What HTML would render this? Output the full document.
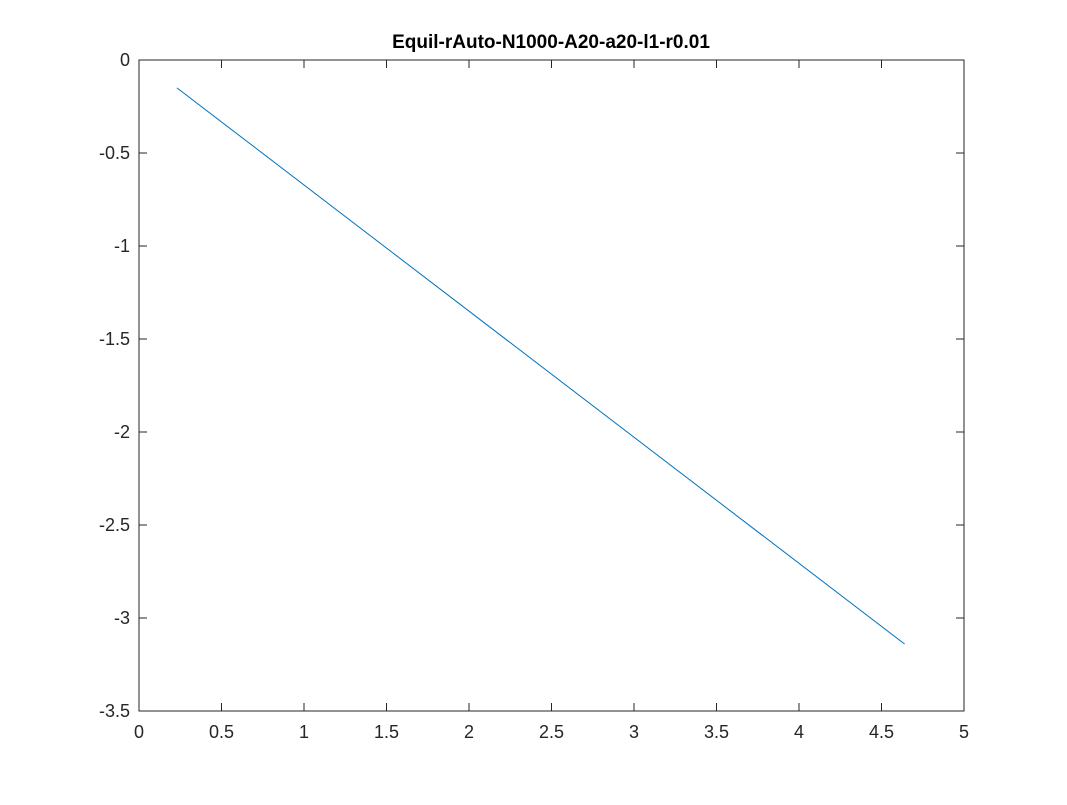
<!DOCTYPE html>
<html><head><meta charset="utf-8"><style>
body{margin:0;background:#fff;width:1067px;height:800px;overflow:hidden;font-family:"Liberation Sans",sans-serif}
</style></head><body>
<svg width="1067" height="800">
<text x="551" y="48" text-anchor="middle" font-size="19" font-weight="bold" fill="#000">Equil-rAuto-N1000-A20-a20-l1-r0.01</text>
<g id="ax"></g>
<g id="plot"></g>
</svg>
<script>
const xTicks=[0,0.5,1,1.5,2,2.5,3,3.5,4,4.5,5];
const xLabels=["0","0.5","1","1.5","2","2.5","3","3.5","4","4.5","5"];
const yTicks=[0,-0.5,-1,-1.5,-2,-2.5,-3,-3.5];
const yLabels=["0","-0.5","-1","-1.5","-2","-2.5","-3","-3.5"];
const seriesX=[0.23,4.64];
const seriesY=[-0.15,-3.14];
const L=139,R=964,T=60,B=711;
const sx=v=>L+(v-0)/(5-0)*(R-L);
const sy=v=>T+(0-v)/(0+3.5)*(B-T);
const NS="http://www.w3.org/2000/svg";
const ax=document.getElementById('ax'),plot=document.getElementById('plot');
function mk(tag,a,p){const e=document.createElementNS(NS,tag);for(const k in a)e.setAttribute(k,a[k]);p.appendChild(e);return e;}
const box=mk('rect',{x:L,y:T,width:R-L,height:B-T,fill:'none',stroke:'#262626','stroke-width':1},ax);


xTicks.forEach((v,i)=>{const x=sx(v);
mk('line',{x1:x,x2:x,y1:B,y2:B-8,stroke:'#262626'},ax);
mk('line',{x1:x,x2:x,y1:T,y2:T+8,stroke:'#262626'},ax);
const t=mk('text',{x:x,y:B+27,'text-anchor':'middle','font-size':18,fill:'#262626'},ax);t.textContent=xLabels[i];

});
yTicks.forEach((v,i)=>{const y=sy(v);
mk('line',{x1:L,x2:L+8,y1:y,y2:y,stroke:'#262626'},ax);
mk('line',{x1:R,x2:R-8,y1:y,y2:y,stroke:'#262626'},ax);
const t=mk('text',{x:L-9,y:y+6,'text-anchor':'end','font-size':18,fill:'#262626'},ax);t.textContent=yLabels[i];

});
const pl=mk('polyline',{points:seriesX.map((x,i)=>sx(x)+','+sy(seriesY[i])).join(' '),fill:'none',stroke:'#0072bd','stroke-width':1},plot);


</script>
</body></html>
